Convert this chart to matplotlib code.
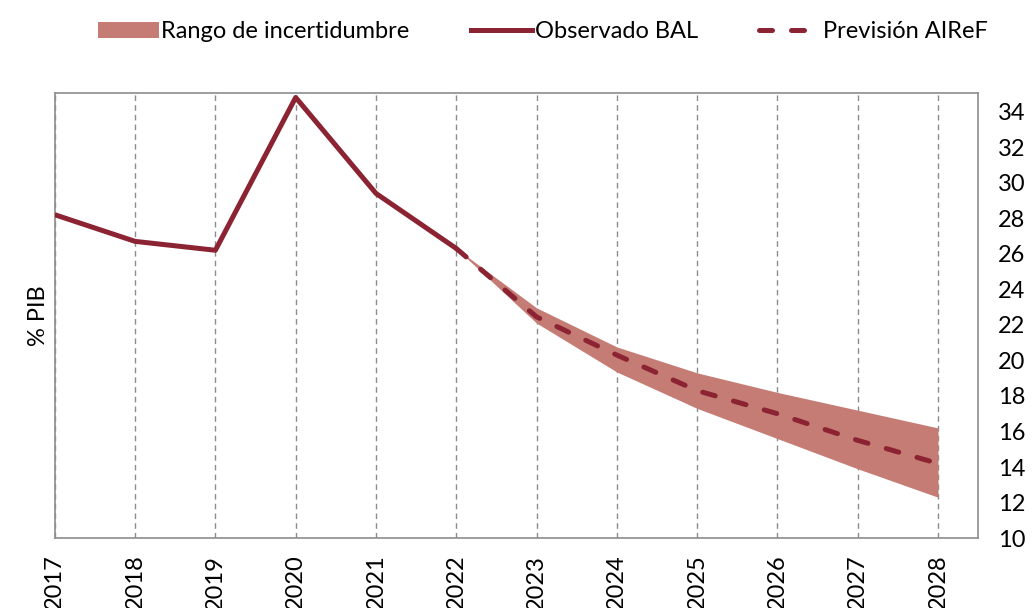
import matplotlib.pyplot as plt
from matplotlib.patches import Patch
from matplotlib.lines import Line2D

plt.rcParams['font.family'] = ['Lato', 'DejaVu Sans']

# Datos (% PIB)
years_obs = [2017, 2018, 2019, 2020, 2021, 2022]
obs = [28.2, 26.7, 26.2, 34.8, 29.4, 26.3]

years_prev = [2022, 2023, 2024, 2025, 2026, 2027, 2028]
prev = [26.3, 22.45, 20.3, 18.3, 17.0, 15.5, 14.2]
band_low = [26.3, 22.1, 19.35, 17.3, 15.6, 13.9, 12.3]
band_high = [26.3, 22.96, 20.76, 19.3, 18.2, 17.2, 16.2]

all_years = list(range(2017, 2029))

line_color = '#8B2332'
band_color = '#C57C74'
grid_color = '#8C8C8C'
dash = (0, (2.6, 3.8))

fig = plt.figure(figsize=(10.34, 6.08), dpi=100)
ax = fig.add_axes([0.053, 0.115, 0.893, 0.732])

ax.fill_between(years_prev, band_low, band_high, color=band_color, linewidth=0, zorder=2)
ax.plot(years_obs, obs, color=line_color, linewidth=3.6, zorder=3, solid_capstyle='butt')
ax.plot(years_prev, prev, color=line_color, linewidth=3.6, linestyle=dash,
        dash_capstyle='round', zorder=4)

ax.set_xlim(2017, 2028.5)
ax.set_ylim(10, 35.05)
ax.set_xticks(all_years)
ax.set_xticklabels([str(y) for y in all_years], rotation=90)
ax.set_yticks(range(10, 35, 2))
ax.yaxis.tick_right()
ax.tick_params(axis='both', length=0, labelsize=17)
ax.tick_params(axis='y', pad=14)
ax.tick_params(axis='x', pad=12)

for y in all_years:
    ax.axvline(y, color=grid_color, linestyle=(0, (4, 3)), linewidth=1.0, zorder=1)

for s in ax.spines.values():
    s.set_color(grid_color)
    s.set_linewidth(1.2)

ax.set_ylabel('% PIB', fontsize=17)
ax.yaxis.set_label_position('left')
ax.yaxis.labelpad = 4

handles = [
    Patch(facecolor=band_color, edgecolor='none'),
    Line2D([], [], color=line_color, linewidth=3.6),
    Line2D([], [], color=line_color, linewidth=3.6, linestyle=dash, dash_capstyle='round'),
]
labels = ['Rango de incertidumbre', 'Observado BAL', 'Previsión AIReF']
fig.legend(handles, labels, loc='upper center', bbox_to_anchor=(0.525, 1.0), ncol=3,
           frameon=False, fontsize=17, handlelength=2.6, handletextpad=0.1,
           columnspacing=2.6)

fig.savefig('out.png', dpi=100)
